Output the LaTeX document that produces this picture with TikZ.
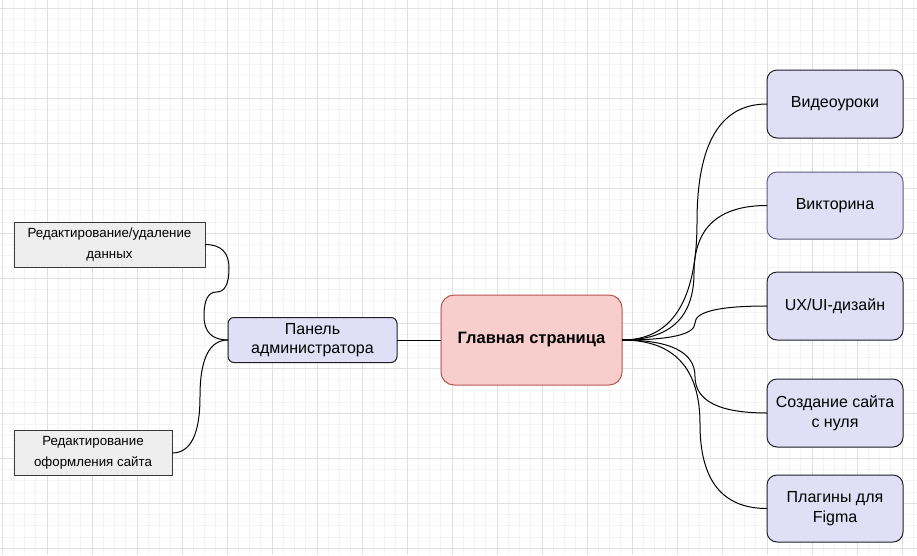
\documentclass[tikz,border=0pt]{standalone}
\usepackage{fontspec}
\setmainfont{Liberation Sans}
\usepackage{tikz}
\usetikzlibrary{positioning,calc}

\definecolor{gridminor}{RGB}{244,244,244}
\definecolor{gridmajor}{RGB}{224,224,224}
\definecolor{lavfill}{RGB}{225,223,246}
\definecolor{lavdraw}{RGB}{30,30,40}
\definecolor{lavsoft}{RGB}{95,90,130}
\definecolor{rosefill}{RGB}{248,206,204}
\definecolor{rosedraw}{RGB}{184,84,80}
\definecolor{grayfill}{RGB}{238,238,238}
\definecolor{graydraw}{RGB}{54,57,61}

\begin{document}
\begin{tikzpicture}[
            x=1pt, y=-1pt,
            outer sep=0pt,
            topic/.style={
                draw=lavdraw, fill=lavfill, rounded corners=10pt, line width=1pt, inner sep=2pt,
                minimum width=136pt, minimum height=68pt, align=center, font=\fontsize{16}{19.5}\selectfont
            },
            hub/.style={
                draw=rosedraw, fill=rosefill, rounded corners=13pt, line width=1pt,
                minimum width=181pt, minimum height=90pt, align=center, font=\fontsize{16.5}{19.5}\selectfont\bfseries
            },
            admin/.style={
                draw=lavdraw, fill=lavfill, rounded corners=6pt, line width=1pt, inner sep=2pt,
                minimum width=169pt, minimum height=45pt, align=center, font=\fontsize{16}{19.5}\selectfont
            },
            task/.style={
                draw=graydraw, fill=grayfill, line width=1pt, inner sep=2pt,
                minimum height=45pt, align=center, font=\fontsize{13.3}{20.5}\selectfont
            },
            link/.style={draw=black, line width=1pt},
            quad/.style={to path={.. controls ($(\tikztostart)!0.667!#1$) and ($(\tikztotarget)!0.667!#1$) .. (\tikztotarget)}}
        ]
            % FON S SETKOJ
            \fill[white] (0,0) rectangle (917,555);
            \useasboundingbox (0,0) rectangle (917,555);
            \begin{scope}
                \clip (0,0) rectangle (917,555);
                \foreach \x in {2,13.25,...,920}
                    \draw[gridminor, line width=0.8pt] (\x,0) -- (\x,555);
                \foreach \y in {-2.95,8.3,...,560}
                    \draw[gridminor, line width=0.8pt] (0,\y) -- (917,\y);
                \foreach \x in {2,47,...,920}
                    \draw[gridmajor, line width=0.8pt] (\x,0) -- (\x,555);
                \foreach \y in {8.3,53.3,...,560}
                    \draw[gridmajor, line width=0.8pt] (0,\y) -- (917,\y);
            \end{scope}

            % --- CENTR ---
            \node[hub] (main) at (531.5,340) {Главная страница};
            \node[admin] (panel) at (312.5,340) {Панель\\администратора};

            % --- SLEVA ---
            \node[task, minimum width=191pt] (edit) at (109.5,244.5) {Редактирование/удаление\\данных};
            \node[task, minimum width=158pt] (style) at (93,453) {Редактирование\\оформления сайта};

            % --- SPRAVA ---
            \node[topic] (video) at (835,104) {Видеоуроки};
            \node[topic, draw=lavsoft, minimum height=67pt] (quiz) at (835,205.5) {Викторина};
            \node[topic] (ux) at (835,306) {UX/UI-дизайн};
            \node[topic] (site) at (835,413) {Создание сайта\\с нуля};
            \node[topic, minimum height=67pt] (figma) at (835,508.5) {Плагины для\\Figma};

            % SVYAZI
            \draw[link] (panel.east) -- (main.west);

            \coordinate (e1) at (229,268);
            \coordinate (e2) at (216.5,292);
            \coordinate (e3) at (204,316);
            \draw[link] (edit.east) to[quad={(229,244.5)}] (e1)
                to[quad={(229,292)}] (e2)
                to[quad={(204,292)}] (e3)
                to[quad={(204,340)}] (panel.west);

            \coordinate (s1) at (200,396.5);
            \draw[link] (style.east) to[quad={(200,453)}] (s1)
                to[quad={(200,340)}] (panel.west);

            \foreach \n/\xm in {video/697, quiz/694, ux/695, site/695, figma/700} {
                \coordinate (bend) at (\xm,0);
                \coordinate (mid) at ($(main.east -| bend)!0.5!(\n.west -| bend)$);
                \draw[link] (main.east) to[quad={(main.east -| bend)}] (mid)
                    to[quad={(\n.west -| bend)}] (\n.west);
            }
        \end{tikzpicture}
\end{document}
